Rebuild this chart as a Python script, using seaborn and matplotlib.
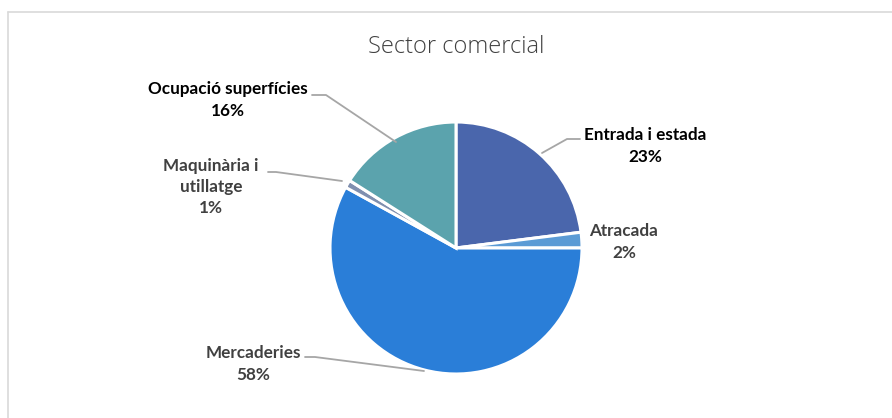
import numpy as np
import matplotlib.pyplot as plt
import seaborn as sns

# data
labels = ['Entrada i estada', 'Atracada', 'Mercaderies', 'Maquinària i\nutillatge', 'Ocupació superfícies']
values = [23, 2, 58, 1, 16]
colors = ['#4A66AC', '#5B9BD5', '#2A7ED8', '#7F8FAF', '#5BA3AD']
label_colors = ['#000000', '#404040', '#404040', '#404040', '#000000']

sns.set_theme(style='white')
plt.rcParams['font.family'] = ['Lato', 'DejaVu Sans']

W, H = 892, 418
cx, cy, R = 456, 248, 126

fig = plt.figure(figsize=(W / 100, H / 100), dpi=100)
ax = fig.add_axes([0, 0, 1, 1])

wedges, _ = ax.pie(values, colors=colors, startangle=90, counterclock=False,
                   radius=1, wedgeprops=dict(edgecolor='white', linewidth=2.2))

def d(px, py):
    return ((px - cx) / R, (cy - py) / R)

# label text centres (pixel) and leader lines (pixel points)
text_pos = [(645, 146), (624, 242), (253, 364), (211, 187), (228, 100)]
leaders = [
    [(542, 153), (567, 139), (580, 139)],
    None,
    [(424, 371), (315, 357), (305, 357)],
    [(342, 181), (276, 172), (268, 172)],
    [(396, 142), (326, 95), (312, 95)],
]

for i, lab in enumerate(labels):
    x, y = d(*text_pos[i])
    ax.text(x, y, f'{lab}\n{values[i]}%', ha='center', va='center',
            fontsize=12.3, fontweight='bold', color=label_colors[i],
            linespacing=1.42)
    if leaders[i] is not None:
        pts = np.array([d(*p) for p in leaders[i]])
        ax.plot(pts[:, 0], pts[:, 1], color='#A6A6A6', lw=1.3)

ax.set_xlim(-cx / R, (W - cx) / R)
ax.set_ylim(-(H - cy) / R, cy / R)
ax.set_aspect('auto')
ax.axis('off')

fig.text(456 / W, 1 - 47 / H, 'Sector comercial', ha='center', va='center',
         fontsize=17, color='#404040', family=['Open Sans', 'DejaVu Sans'], fontweight='light')

# chart area border (top and left only visible)
fig.add_artist(plt.Line2D([8 / W, 8 / W], [0, 1 - 12 / H], color='#D9D9D9', lw=1.2, transform=fig.transFigure))
fig.add_artist(plt.Line2D([8 / W, 1], [1 - 12 / H, 1 - 12 / H], color='#D9D9D9', lw=1.2, transform=fig.transFigure))

fig.savefig('out.png', dpi=100, facecolor='white')
